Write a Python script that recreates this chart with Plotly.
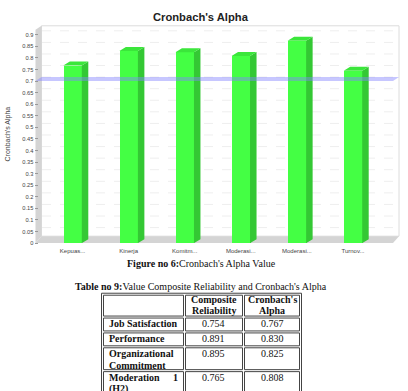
import plotly.graph_objects as go

# ---------------- data ----------------
categories = ["Kepuas...", "Kinerja", "Komitm...", "Moderasi...", "Moderasi...", "Turnov..."]
alpha_values = [0.767, 0.830, 0.825, 0.808, 0.874, 0.745]
threshold = 0.7

table_labels = [["Job Satisfaction"], ["Performance"], ["Organizational", "Commitment"], ["Moderation", "(H2)"]]
composite_rel = ["0.754", "0.891", "0.895", "0.765"]
cronbach_alpha = ["0.767", "0.830", "0.825", "0.808"]

W, H = 408, 391
def PX(x): return x / W
def PY(y): return 1 - y / H

# pixel scale helpers for 3D depth effect
Y_PX_PER_UNIT = 233.3
X_PX_PER_CAT = 56.08
DY = 4 / Y_PX_PER_UNIT
DX = 6.5 / X_PX_PER_CAT
BW = 0.33

xs = list(range(len(categories)))

fig = go.Figure()

# front faces
fig.add_trace(go.Bar(x=xs, y=alpha_values, width=BW, marker=dict(color="#44ff44", line=dict(width=0)),
                     hoverinfo="skip", showlegend=False))

# side and top faces
sx, sy = [], []
tx, ty = [], []
for x, v in zip(xs, alpha_values):
    r = x + BW / 2
    l = x - BW / 2
    sx += [r, r + DX, r + DX, r, r, None]
    sy += [0, DY, v + DY, v, 0, None]
    tx += [l, l + DX, r + DX, r, l, None]
    ty += [v, v + DY, v + DY, v, v, None]
fig.add_trace(go.Scatter(x=sx, y=sy, mode="lines", fill="toself", fillcolor="#34c834",
                         line=dict(width=0, color="#34c834"), hoverinfo="skip", showlegend=False))
fig.add_trace(go.Scatter(x=tx, y=ty, mode="lines", fill="toself", fillcolor="#3be63b",
                         line=dict(width=0, color="#3be63b"), hoverinfo="skip", showlegend=False))

shapes = []
# back wall
shapes.append(dict(type="rect", xref="paper", yref="paper", x0=PX(41.5), x1=PX(399), y0=PY(238), y1=PY(26),
                   fillcolor="white", line=dict(color="#dcdcdc", width=1), layer="below"))
# gridlines on back wall
for i in range(1, 19):
    v = i * 0.05
    shapes.append(dict(type="line", xref="paper", yref="y", x0=PX(42), x1=PX(398.5), y0=v + DY, y1=v + DY,
                       line=dict(color="#eeeeee", width=1, dash="dash"), layer="below"))
# left wall
shapes.append(dict(type="path", xref="paper", yref="paper",
                   path=f"M {PX(35.5)} {PY(30)} L {PX(41.5)} {PY(26)} L {PX(41.5)} {PY(238)} L {PX(35.5)} {PY(245)} Z",
                   fillcolor="#d4d4d4", line=dict(width=0), layer="below"))
# floor
shapes.append(dict(type="path", xref="paper", yref="paper",
                   path=f"M {PX(35.5)} {PY(245)} L {PX(41.5)} {PY(238)} L {PX(399)} {PY(238)} L {PX(393)} {PY(245)} Z",
                   fillcolor="#d4d4d4", line=dict(width=0), layer="below"))
# threshold marker band
shapes.append(dict(type="path", xref="paper", yref="y",
                   path=f"M {PX(35.5)} {threshold} L {PX(41.5)} {threshold + DY} L {PX(399)} {threshold + DY} L {PX(393)} {threshold} Z",
                   fillcolor="rgba(130,130,255,0.45)", line=dict(width=0), layer="above"))

# ---------------- table ----------------
col_x = [(103.5, 183.5), (185.5, 242.5), (244.5, 299.5)]
row_y = [(297.5, 318.5), (320.5, 333.5), (335.5, 348.5), (350.5, 372.5), (374.5, 410)]
border = "#444"
shapes.append(dict(type="rect", xref="paper", yref="paper", x0=PX(101.5), x1=PX(301.5), y0=PY(295.5), y1=PY(412),
                   line=dict(color=border, width=1), fillcolor="rgba(0,0,0,0)"))
for (y0, y1) in row_y:
    for (x0, x1) in col_x:
        shapes.append(dict(type="rect", xref="paper", yref="paper", x0=PX(x0), x1=PX(x1), y0=PY(y1), y1=PY(y0),
                           line=dict(color=border, width=1), fillcolor="rgba(0,0,0,0)"))

annotations = []
serif = "Liberation Serif, Times New Roman, serif"
def ann(text, x, y, size=10, xanchor="center", family=serif, color="#111", **kw):
    annotations.append(dict(text=text, x=PX(x), y=PY(y), xref="paper", yref="paper", showarrow=False,
                            xanchor=xanchor, yanchor="middle", font=dict(size=size, family=family, color=color), **kw))

# chart title and y-axis title
sans = "Liberation Sans, Arial, sans-serif"
ann("<b>Cronbach's Alpha</b>", 200.5, 17, size=11.2, family=sans, color="#222")
ann("Cronbach's Alpha", 7.5, 135, size=7, family=sans, color="#444", textangle=-90)

# caption and table title
ann("<b>Figure no 6:</b>Cronbach's Alpha Value", 201, 266)
ann("<b>Table no 9:</b>Value Composite Reliability and Cronbach's Alpha", 201, 289)

# header
ann("<b>Composite</b>", 213.5, 302)
ann("<b>Reliability</b>", 213.5, 313.3)
ann("<b>Cronbach's</b>", 272, 302)
ann("<b>Alpha</b>", 272, 313.3)

line_centers = [[326], [341], [356.7, 368], [380.7, 392.5]]
for i, lines in enumerate(table_labels):
    for j, t in enumerate(lines):
        ann(f"<b>{t}</b>", 107, line_centers[i][j], xanchor="left")
    ann(composite_rel[i], 213.5, line_centers[i][0])
    ann(cronbach_alpha[i], 272, line_centers[i][0])
# justified "1" at the right of "Moderation 1"
ann("<b>1</b>", 179.5, line_centers[3][0], xanchor="right")

fig.update_layout(
    width=W, height=H,
    margin=dict(l=0, r=0, t=0, b=0),
    paper_bgcolor="white", plot_bgcolor="rgba(0,0,0,0)",
    bargap=0,
    shapes=shapes, annotations=annotations,
    xaxis=dict(domain=[PX(44.5), PX(381)], range=[-0.5, 5.5], tickvals=xs, ticktext=categories,
               showgrid=False, zeroline=False, showline=False, ticks="", ticklabelstandoff=3,
               tickfont=dict(size=6, family=sans, color="#444"), fixedrange=True),
    yaxis=dict(domain=[PY(245), PY(26.9)], range=[0, 0.935], anchor="free", position=PX(37.5),
               tick0=0, dtick=0.05, ticks="outside", ticklen=3, tickcolor="#999",
               showgrid=False, zeroline=False, showline=False,
               tickfont=dict(size=5.7, family=sans, color="#444"), fixedrange=True),
)

fig.write_html("out.html")
